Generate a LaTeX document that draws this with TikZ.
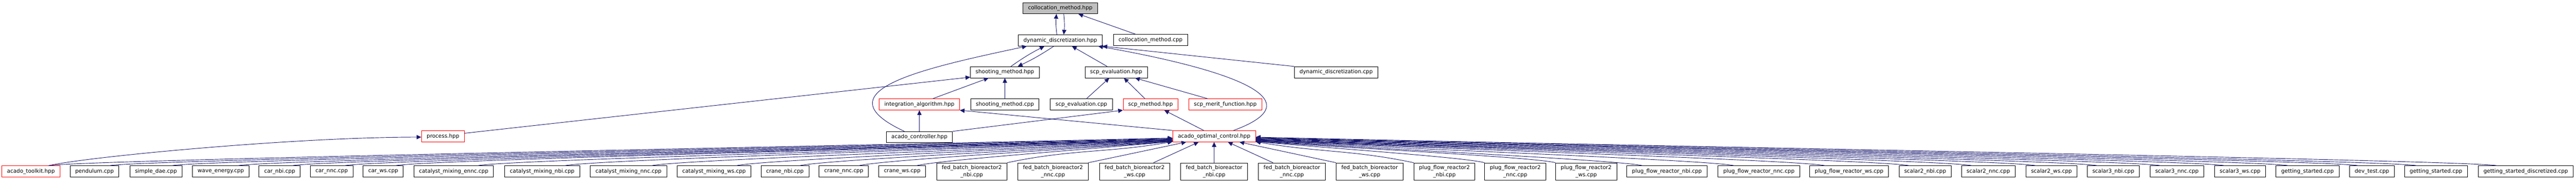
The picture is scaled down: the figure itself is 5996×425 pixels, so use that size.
\documentclass[tikz,border=0pt]{standalone}
\usepackage{fontspec}
\setmainfont{DejaVu Sans}
\usetikzlibrary{shapes,arrows.meta,positioning,calc}
\definecolor{edgeblue}{RGB}{25,25,112}
\tikzset{
  file/.style     = {draw, line width = 0.2pt, rectangle, minimum height = 5.2pt, inner xsep = 2.4pt, inner ysep = 0.4pt, font = \fontsize{2.5}{3.2}\selectfont},
  twoline/.style  = {file, align = center, minimum height = 8pt},
  root/.style     = {file, fill = black!25},
  redfile/.style  = {file, draw = red},
  incl/.style     = {->, draw = edgeblue, line width = 0.22pt},
  feedl/.style 2 args = {out = 15, in = #1, out distance = 10pt, in distance = #2},
  feedr/.style 2 args = {out = 165, in = #1, out distance = 10pt, in distance = #2}
}

\begin{document}
\begin{tikzpicture}[x=0.2pt, y=-0.2pt, node distance=4.6pt, >={Triangle[length=2.2pt, width=2pt]}]
\useasboundingbox (0,0) rectangle (5996,425);

% Top of the graph
\node [root] (colhpp) at (2468,19) {collocation\_method.hpp};
\node [file, below=9.6pt of colhpp] (ddhpp) {dynamic\_discretization.hpp};
\node [file] (colcpp) at (2678,93) {collocation\_method.cpp};

% Third row
\node [file] (smhpp) at (2339,168) {shooting\_method.hpp};
\node [file] (scpevalhpp) at (2598,168) {scp\_evaluation.hpp};
\node [file] (ddcpp) at (3110,168) {dynamic\_discretization.cpp};

% Fourth row
\node [redfile] (intalg) at (2140,243) {integration\_algorithm.hpp};
\node [file, below=9.6pt of smhpp] (smcpp) {shooting\_method.cpp};
\node [file] (scpevalcpp) at (2517,243) {scp\_evaluation.cpp};
\node [redfile] (scpmethod) at (2678,243) {scp\_method.hpp};
\node [redfile] (scpmerit) at (2852,243) {scp\_merit\_function.hpp};

% Fifth row
\node [redfile] (process) at (1031,317) {process.hpp};
\node [file, below=9.8pt of intalg] (controller) {acado\_controller.hpp};
\node [redfile] (aoc) at (2826,317) {acado\_optimal\_control.hpp};

% Bottom row
\node [redfile] (toolkit) at (72,399) {acado\_toolkit.hpp};
\node [file] (pendulum) at (220,399) {pendulum.cpp};
\node [file] (simpledae) at (363,399) {simple\_dae.cpp};
\node [file] (wave) at (514,399) {wave\_energy.cpp};
\node [file] (carnbi) at (651,399) {car\_nbi.cpp};
\node [file] (carnnc) at (772,399) {car\_nnc.cpp};
\node [file] (carws) at (892,399) {car\_ws.cpp};
\node [file] (catennc) at (1056,399) {catalyst\_mixing\_ennc.cpp};
\node [file] (catnbi) at (1262,399) {catalyst\_mixing\_nbi.cpp};
\node [file] (catnnc) at (1463,399) {catalyst\_mixing\_nnc.cpp};
\node [file] (catws) at (1662,399) {catalyst\_mixing\_ws.cpp};
\node [file] (cranenbi) at (1827,399) {crane\_nbi.cpp};
\node [file] (cranennc) at (1964,399) {crane\_nnc.cpp};
\node [file] (cranews) at (2100,399) {crane\_ws.cpp};
\node [twoline] (fbb2nbi) at (2262,399) {fed\_batch\_bioreactor2\\\_nbi.cpp};
\node [twoline] (fbb2nnc) at (2451,399) {fed\_batch\_bioreactor2\\\_nnc.cpp};
\node [twoline] (fbb2ws) at (2641,399) {fed\_batch\_bioreactor2\\\_ws.cpp};
\node [twoline] (fbbnbi) at (2826,399) {fed\_batch\_bioreactor\\\_nbi.cpp};
\node [twoline] (fbbnnc) at (3007,399) {fed\_batch\_bioreactor\\\_nnc.cpp};
\node [twoline] (fbbws) at (3188,399) {fed\_batch\_bioreactor\\\_ws.cpp};
\node [twoline] (pfr2nbi) at (3362,399) {plug\_flow\_reactor2\\\_nbi.cpp};
\node [twoline] (pfr2nnc) at (3527,399) {plug\_flow\_reactor2\\\_nnc.cpp};
\node [twoline] (pfr2ws) at (3692,399) {plug\_flow\_reactor2\\\_ws.cpp};
\node [file] (pfrnbi) at (3880,399) {plug\_flow\_reactor\_nbi.cpp};
\node [file] (pfrnnc) at (4094,399) {plug\_flow\_reactor\_nnc.cpp};
\node [file] (pfrws) at (4304,399) {plug\_flow\_reactor\_ws.cpp};
\node [file] (sc2nbi) at (4481,399) {scalar2\_nbi.cpp};
\node [file] (sc2nnc) at (4628,399) {scalar2\_nnc.cpp};
\node [file] (sc2ws) at (4775,399) {scalar2\_ws.cpp};
\node [file] (sc3nbi) at (4919,399) {scalar3\_nbi.cpp};
\node [file] (sc3nnc) at (5067,399) {scalar3\_nnc.cpp};
\node [file] (sc3ws) at (5214,399) {scalar3\_ws.cpp};
\node [file] (gsa) at (5371,399) {getting\_started.cpp};
\node [file] (devtest) at (5521,399) {dev\_test.cpp};
\node [file] (gsb) at (5670,399) {getting\_started.cpp};
\node [file] (gsdisc) at (5879,399) {getting\_started\_discretized.cpp};

% Upper connections
\draw [incl] ([xshift=-1.6pt]ddhpp.north) to [bend left=6] ([xshift=-1.8pt]colhpp.south);
\draw [incl] ([xshift=1.6pt]colhpp.south) to [bend left=6] ([xshift=1.6pt]ddhpp.north);
\draw [incl] ([xshift=-7pt]colcpp.north) -- ([xshift=8.4pt]colhpp.south);
\draw [incl] ([xshift=2.8pt]smhpp.north) to [bend left=4] ([xshift=-7.4pt]ddhpp.south);
\draw [incl] ([xshift=-3pt]ddhpp.south) to [bend left=4] ([xshift=6pt]smhpp.north);
\draw [incl] ([xshift=-4.2pt]scpevalhpp.north) -- ([xshift=5.4pt]ddhpp.south);
\draw [incl] (ddcpp.north west) -- (ddhpp.south east);
\draw [incl] ([xshift=9pt]aoc.north) to [out=20, in=-10, out distance=44pt, in distance=56pt] ([xshift=-2pt]ddhpp.south east);
\draw [incl] ([xshift=-7pt]controller.north) to [out=155, in=-168, out distance=44pt, in distance=50pt] ([xshift=-15.6pt]ddhpp.south);

\draw [incl] ([yshift=1.4pt]process.east) -- ([yshift=0.4pt]smhpp.south west);
\draw [incl] ([xshift=6.2pt]intalg.north) -- ([xshift=-7.6pt]smhpp.south);
\draw [incl] (smcpp) -- (smhpp);
\draw [incl] ([xshift=2.4pt]scpevalcpp.north) -- ([xshift=-3.2pt]scpevalhpp.south);
\draw [incl] ([xshift=-2.6pt]scpmethod.north) -- ([xshift=3.6pt]scpevalhpp.south);
\draw [incl] ([xshift=-8.2pt]scpmerit.north) -- ([xshift=8.8pt]scpevalhpp.south);

\draw [incl] (controller) -- (intalg);
\draw [incl] (aoc.north west) -- (intalg.south east);
\draw [incl] (controller.north east) -- (scpmethod.south west);
\draw [incl] ([xshift=-4.8pt]aoc.north) -- ([xshift=6.4pt]scpmethod.south);

% Into process.hpp
\draw [incl] ($(toolkit.north)!.6!(toolkit.north east)$) to [out=14, in=180, out distance=16pt, in distance=60pt] ([yshift=-0.4pt]process.west);

% Into acado_optimal_control.hpp from the left
\draw [incl] ($(toolkit.north)!.6!(toolkit.north east)$) to [feedl={181.4}{157pt}] ([yshift=-0.8pt]aoc.west);
\draw [incl] ($(pendulum.north)!.6!(pendulum.north east)$) to [feedl={181.5}{149pt}] ([yshift=-1pt]aoc.west);
\draw [incl] ($(simpledae.north)!.6!(simpledae.north east)$) to [feedl={181.6}{140pt}] ([yshift=-1.2pt]aoc.west);
\draw [incl] ($(wave.north)!.6!(wave.north east)$) to [feedl={181.7}{131pt}] ([yshift=-1.4pt]aoc.west);
\draw [incl] ($(carnbi.north)!.6!(carnbi.north east)$) to [feedl={181.7}{123pt}] ([yshift=-1.6pt]aoc.west);
\draw [incl] ($(carnnc.north)!.6!(carnnc.north east)$) to [feedl={181.8}{116pt}] ([yshift=-1.8pt]aoc.west);
\draw [incl] ($(carws.north)!.6!(carws.north east)$) to [feedl={181.9}{109pt}] ([yshift=-1.8pt]aoc.west);
\draw [incl] ($(catennc.north)!.6!(catennc.north east)$) to [feedl={182.1}{97pt}] ([yshift=-2pt]aoc.west);
\draw [incl] ($(catnbi.north)!.6!(catnbi.north east)$) to [feedl={182.4}{85pt}] ([yshift=-2pt]aoc.west);
\draw [incl] ($(catnnc.north)!.6!(catnnc.north east)$) to [feedl={182.8}{73pt}] ([yshift=-2.2pt]aoc.west);
\draw [incl] ($(catws.north)!.6!(catws.north east)$) to [feedl={183.3}{61pt}] ([yshift=-2.2pt]aoc.west);
\draw [incl] ($(cranenbi.north)!.6!(cranenbi.north east)$) to [feedl={183.8}{52pt}] ([yshift=-2.4pt]aoc.west);
\draw [incl] ($(cranennc.north)!.6!(cranennc.north east)$) to [feedl={184.5}{44pt}] ([yshift=-2.4pt]aoc.west);
\draw [incl] ($(cranews.north)!.6!(cranews.north east)$) to [feedl={185.5}{36pt}] ([yshift=-2.4pt]aoc.west);
\draw [incl] (fbb2nbi.north east) to [out=12, in=190] ([yshift=0.2pt]aoc.south west);
\draw [incl] (fbb2nnc.north east) -- ([xshift=-13pt]aoc.south);
\draw [incl] ([xshift=8.8pt]fbb2ws.north) -- ([xshift=-7.2pt]aoc.south);
\draw [incl] (fbbnbi) -- (aoc);

% Into acado_optimal_control.hpp from the right
\draw [incl] ([xshift=-8.8pt]fbbnnc.north) -- ([xshift=6.4pt]aoc.south);
\draw [incl] (fbbws.north west) -- ([xshift=11.8pt]aoc.south);
\draw [incl] (pfr2nbi.north west) to [out=168, in=-10] ([yshift=0.2pt]aoc.south east);
\draw [incl] (pfr2nnc.north west) to [feedr={-5.4}{32pt}] ([yshift=-2.4pt]aoc.east);
\draw [incl] (pfr2ws.north west) to [feedr={-4.1}{42pt}] ([yshift=-2.4pt]aoc.east);
\draw [incl] ($(pfrnbi.north)!.6!(pfrnbi.north west)$) to [feedr={-3.7}{54pt}] ([yshift=-2.2pt]aoc.east);
\draw [incl] ($(pfrnnc.north)!.6!(pfrnnc.north west)$) to [feedr={-3}{67pt}] ([yshift=-2.2pt]aoc.east);
\draw [incl] ($(pfrws.north)!.6!(pfrws.north west)$) to [feedr={-2.6}{80pt}] ([yshift=-2pt]aoc.east);
\draw [incl] ($(sc2nbi.north)!.6!(sc2nbi.north west)$) to [feedr={-2.3}{91pt}] ([yshift=-2pt]aoc.east);
\draw [incl] ($(sc2nnc.north)!.6!(sc2nnc.north west)$) to [feedr={-2.1}{100pt}] ([yshift=-1.8pt]aoc.east);
\draw [incl] ($(sc2ws.north)!.6!(sc2ws.north west)$) to [feedr={-1.9}{109pt}] ([yshift=-1.8pt]aoc.east);
\draw [incl] ($(sc3nbi.north)!.6!(sc3nbi.north west)$) to [feedr={-1.8}{118pt}] ([yshift=-1.6pt]aoc.east);
\draw [incl] ($(sc3nnc.north)!.6!(sc3nnc.north west)$) to [feedr={-1.7}{126pt}] ([yshift=-1.4pt]aoc.east);
\draw [incl] ($(sc3ws.north)!.6!(sc3ws.north west)$) to [feedr={-1.6}{135pt}] ([yshift=-1.2pt]aoc.east);
\draw [incl] ($(gsa.north)!.6!(gsa.north west)$) to [feedr={-1.5}{144pt}] ([yshift=-1pt]aoc.east);
\draw [incl] ($(devtest.north)!.6!(devtest.north west)$) to [feedr={-1.5}{154pt}] ([yshift=-0.8pt]aoc.east);
\draw [incl] ($(gsb.north)!.6!(gsb.north west)$) to [feedr={-1.4}{162pt}] ([yshift=-0.6pt]aoc.east);
\draw [incl] ($(gsdisc.north)!.6!(gsdisc.north west)$) to [feedr={-1.35}{173pt}] ([yshift=-0.4pt]aoc.east);

\end{tikzpicture}
\end{document}
